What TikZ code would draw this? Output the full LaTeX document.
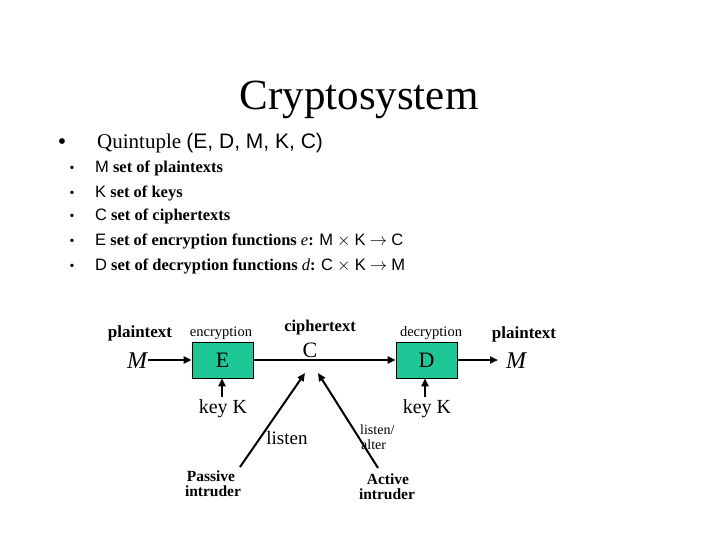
\documentclass[tikz,border=0pt]{standalone}
\usepackage{fontspec}
\setmainfont{Liberation Serif}
\newfontfamily\sansf{Liberation Sans}
\usetikzlibrary{arrows.meta}
\definecolor{boxgreen}{RGB}{30,200,150}
\newcommand{\sletter}[1]{{\sansf\mdseries #1}}
\tikzset{
  txt/.style={inner sep=0pt, anchor=base},
  fbox/.style={draw=black, line width=0.8pt, fill=boxgreen, minimum width=61pt, minimum height=36pt, inner sep=0pt, font=\fontsize{22}{24}\selectfont},
  conn/.style={line width=2pt, -{Triangle[length=8pt,width=7pt]}},
  bul/.style={inner sep=0pt, anchor=base},
}
\begin{document}
\begin{tikzpicture}[x=1pt,y=-1pt]
\useasboundingbox (0,0) rectangle (720,540);
% title
\node[txt, font=\fontsize{43}{46}\selectfont] (title) at (359,110) {Cryptosystem};
% main bullet
\node[bul, font=\fontsize{24}{26}\selectfont] (b0) at (62,150) {•};
\node[txt, anchor=base west, font=\fontsize{21}{24}\selectfont] (q) at (97,149) {Quintuple {\sansf (E, D, M, K, C)}};
% sub bullets
\foreach \y/\t [count=\i] in {173/{\sletter{M} set of plaintexts},
                197/{\sletter{K} set of keys},
                221/{\sletter{C} set of ciphertexts},
                245/{\sletter{E} set of encryption functions {\mdseries\textit{e}}: \sletter{M} $\times$ \sletter{K} $\rightarrow$ \sletter{C}},
                270/{\sletter{D} set of decryption functions {\mdseries\textit{d}}: \sletter{C} $\times$ \sletter{K} $\rightarrow$ \sletter{M}}}{
  \node[bul, font=\fontsize{14}{16}\selectfont] (sb\i) at (72,\y) {•};
  \node[txt, anchor=base west, font=\fontsize{16.5}{19}\selectfont\bfseries] (st\i) at (95,\y) {\t};
}
% diagram labels
\node[txt, font=\fontsize{17}{19}\selectfont\bfseries] (pl) at (140,337) {plaintext};
\node[txt, font=\fontsize{14.5}{17}\selectfont] (enc) at (221,336) {encryption};
\node[txt, font=\fontsize{16.5}{19}\selectfont\bfseries] (ct) at (320,331) {ciphertext};
\node[txt, font=\fontsize{14.5}{17}\selectfont] (dec) at (431,336) {decryption};
\node[txt, font=\fontsize{17}{19}\selectfont\bfseries] (pr) at (524,338) {plaintext};
\node[txt, font=\fontsize{24}{26}\selectfont\itshape] (Ml) at (137,368) {M};
\node[txt, font=\fontsize{24}{26}\selectfont\itshape] (Mr) at (516,368) {M};
\node[fbox] (E) at (222.5,360) {E};
\node[fbox] (D) at (426.5,360) {D};
\node[txt, font=\fontsize{22}{24}\selectfont] (C) at (310,357) {C};
\node[txt, font=\fontsize{20}{22}\selectfont] (kl) at (223,413) {key K};
\node[txt, font=\fontsize{20}{22}\selectfont] (kr) at (427,413) {key K};
\node[txt, font=\fontsize{19}{21}\selectfont] (ls) at (287,444) {listen};
\node[txt, anchor=base west, font=\fontsize{14}{16}\selectfont] (la1) at (360,434) {listen/};
\node[txt, anchor=base west, font=\fontsize{14}{16}\selectfont] (la2) at (361,449) {alter};
\node[txt, font=\fontsize{15.5}{17}\selectfont\bfseries] (pa1) at (211,481) {Passive};
\node[txt, font=\fontsize{15.5}{17}\selectfont\bfseries] (pa2) at (213,496) {intruder};
\node[txt, font=\fontsize{15.5}{17}\selectfont\bfseries] (ac1) at (388,484) {Active};
\node[txt, font=\fontsize{15.5}{17}\selectfont\bfseries] (ac2) at (387,499) {intruder};
% connectors
\coordinate (p1) at (240,467);
\coordinate (p2) at (305,373);
\coordinate (q1) at (378,468);
\coordinate (q2) at (318,373);
\coordinate (kle) at (222,397);
\coordinate (kre) at (425,397);
\draw[conn] (Ml.east |- E.west) ++(1,0) -- (E.west);
\draw[conn] (E.east) -- (D.west);
\draw[conn] (D.east) -- (498,360);
\draw[conn] (kle) -- (kle |- E.south);
\draw[conn] (kre) -- (kre |- D.south);
\draw[conn] (p1) -- (p2);
\draw[conn] (q1) -- (q2);
\end{tikzpicture}
\end{document}
